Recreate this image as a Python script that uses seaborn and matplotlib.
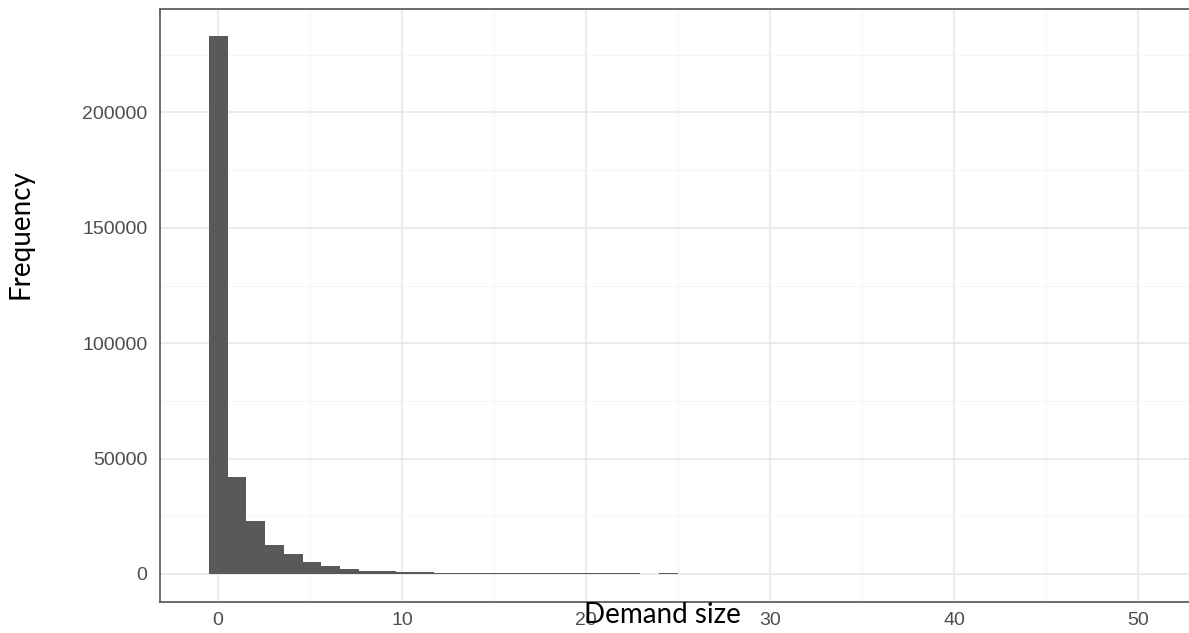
import numpy as np
import pandas as pd
import matplotlib
matplotlib.use("Agg")
import matplotlib.pyplot as plt
import seaborn as sns

# counts per demand size
demand_size = list(range(0, 25)) + [52]
counts = [233000, 41900, 23100, 12600, 8500, 5100, 3600, 2200, 1500, 1100,
          950, 850, 600, 560, 520, 490, 460, 430, 400, 380,
          360, 340, 320, 0, 300, 1]

x_ticks = [0, 10, 20, 30, 40, 50]
y_ticks = [0, 50000, 100000, 150000, 200000]

df = pd.DataFrame({"demand_size": demand_size, "count": counts})

sns.set_style("white")
plt.rcParams['font.family'] = ['Liberation Sans', 'DejaVu Sans']

fig = plt.figure(figsize=(11.89, 6.33), dpi=100)
W, H = 1189, 633
ax = fig.add_axes([160 / W, (H - 602.3) / H, (1233 - 160) / W, (602.3 - 9.3) / H])

# ggplot-style bins: 52 bins centred from min to max
n_bins = 52
lo, hi = min(demand_size), max(demand_size)
bw = (hi - lo) / (n_bins - 1)
sns.histplot(
    data=df, x="demand_size", weights="count",
    bins=n_bins, binrange=(lo - bw / 2, hi + bw / 2),
    color="#595959", alpha=1, edgecolor="none", linewidth=0, ax=ax
)

span = (hi + bw / 2) - (lo - bw / 2)
ax.set_xlim(lo - bw / 2 - 0.05 * span, hi + bw / 2 + 0.05 * span)
ax.set_ylim(-12270, 244700)

ax.set_xticks(x_ticks)
ax.set_yticks(y_ticks)
ax.set_xticks([5, 15, 25, 35, 45, 55], minor=True)
ax.set_yticks([25000, 75000, 125000, 175000, 225000], minor=True)
ax.set_xticklabels([str(v) for v in x_ticks])
ax.set_yticklabels([str(v) for v in y_ticks])

ax.set_axisbelow(True)
ax.grid(which='major', color='#E6E6E6', linewidth=1.1)
ax.grid(which='minor', color='#F3F3F3', linewidth=0.6)

for s in ax.spines.values():
    s.set_color('#606060')
    s.set_linewidth(1.3)

ax.tick_params(axis='both', which='major', direction='out', length=3.6, width=1,
               color='#333333', labelcolor='#4D4D4D', labelsize=14)
ax.tick_params(axis='x', which='major', pad=3.5)
ax.tick_params(axis='y', which='major', pad=5.5)
ax.tick_params(which='minor', length=0)

ax.set_xlabel("")
ax.set_ylabel("")

fig.text(662 / W, 1 - 623 / H, "Demand size", ha='center', va='baseline',
         fontsize=20, family=['Lato', 'DejaVu Sans'], color='black')
fig.text(20 / W, 1 - 234 / H, "Frequency", ha='center', va='center', rotation=90,
         fontsize=20, family=['Lato', 'DejaVu Sans'], color='black')

fig.savefig("out.png", dpi=100)
